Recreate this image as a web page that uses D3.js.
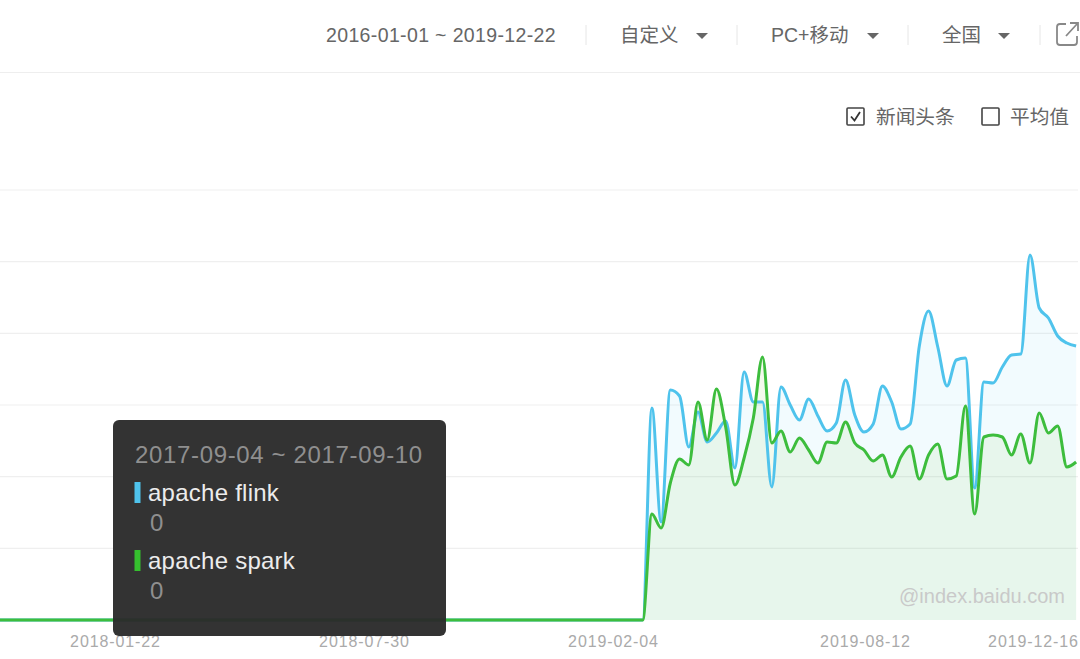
<!DOCTYPE html>
<html><head><meta charset="utf-8">
<script src="https://cdn.jsdelivr.net/npm/d3@7/dist/d3.min.js"></script>
<style>html,body{margin:0;padding:0;background:#fff;overflow:hidden}svg{display:block}text{font-family:"Liberation Sans","Noto Sans CJK SC",sans-serif}</style>
</head><body><svg id="c" width="1080" height="659"></svg>
<script>
const firstWeek = "2017-10-16";
const zeroRun = [0,0,0,0,0,0,0,0,0,0,0,0,0,0,0,0,0,0,0,0,0,0,0,0,0,0,0,0,0,0,0,0,0,0,0,0,0,0,0,0,0,0,0,0,0,0,0,0,0,0,0,0,0,0,0,0,0,0,0,0,0,0,0,0,0,0,0,0,0,0,0,0];
const flinkActive = [424,196,460,448,346,416,356,374,398,304,496,436,436,266,466,430,400,442,408,378,394,480,410,376,392,468,436,382,392,548,618,546,468,520,524,264,476,474,506,530,532,730,624,604,568,554,548];
const sparkActive = [212,184,274,322,310,436,360,462,386,270,324,404,526,354,378,336,364,340,314,356,354,396,354,340,318,330,286,326,348,282,330,352,282,288,428,212,366,370,366,330,372,314,414,374,388,306,316];
const gridValues = [143.3,286.7,430,573.3,716.7,860];
const tickLabels = ["2018-01-22","2018-07-30","2019-02-04","2019-08-12","2019-12-16"];
const seriesNames = ["apache flink","apache spark"];
const tooltipRange = "2017-09-04 ~ 2017-09-10";
const tooltipValues = ["0","0"];
const headerItems = ["自定义","PC+移动","全国"];
const dateRange = "2016-01-01 ~ 2019-12-22";
const toggles = ["新闻头条","平均值"];
const watermark = "@index.baidu.com";

const svg = d3.select("#c");
const parse = d3.utcParse("%Y-%m-%d");
const flink = zeroRun.concat(flinkActive), spark = zeroRun.concat(sparkActive);
const dates = flink.map((_, i) => d3.utcWeek.offset(parse(firstWeek), i));
const x = d3.scaleUtc().domain([parse("2018-01-22"), parse("2019-12-16")]).range([117, 1030]);
const y = d3.scaleLinear().domain([0, 860]).range([620, 190]);
svg.append("defs").append("clipPath").attr("id","pl").append("rect").attr("x",0).attr("y",0).attr("width",1078).attr("height",659);

// header
svg.append("line").attr("x1",0).attr("x2",1080).attr("y1",72.5).attr("y2",72.5).attr("stroke","#eee");
const hc = "#666";
svg.append("text").attr("x",326).attr("y",42).attr("font-size",19.5).attr("letter-spacing",0.36).attr("fill",hc).text(dateRange);
[[620,702],[771,873],[942,1004]].forEach((p,i)=>{
  svg.append("text").attr("x",p[0]).attr("y",42).attr("font-size",19.5).attr("fill",hc).text(headerItems[i]);
  svg.append("path").attr("d",d3.line()([[p[1]-6,33],[p[1]+6,33],[p[1],39]])+"Z").attr("fill","#666");
});
[586,737,908,1040].forEach(s=>svg.append("line").attr("x1",s).attr("x2",s).attr("y1",25).attr("y2",45).attr("stroke","#e6e6e6"));
svg.append("path").attr("d","M1066 24H1060a3 3 0 0 0-3 3V42a3 3 0 0 0 3 3H1074a3 3 0 0 0 3-3V36M1066 36L1077 24M1070 23H1078V31").attr("fill","none").attr("stroke","#888").attr("stroke-width",1.8);

// toggles
svg.append("rect").attr("x",847).attr("y",108).attr("width",17).attr("height",17).attr("fill","#fff").attr("stroke","#444").attr("stroke-width",1.6).attr("rx",1);
svg.append("path").attr("d","M851 116.5L854.5 120.5L860 112").attr("fill","none").attr("stroke","#333").attr("stroke-width",1.8);
svg.append("rect").attr("x",982).attr("y",108).attr("width",17).attr("height",17).attr("fill","#fff").attr("stroke","#444").attr("stroke-width",1.6).attr("rx",1);
svg.append("text").attr("x",876).attr("y",124).attr("font-size",19.7).attr("fill",hc).text(toggles[0]);
svg.append("text").attr("x",1010).attr("y",124).attr("font-size",19.7).attr("fill",hc).text(toggles[1]);

// grid
svg.append("g").selectAll("line").data(gridValues).join("line")
 .attr("x1",0).attr("x2",1078).attr("y1",d=>y(d)).attr("y2",d=>y(d)).attr("stroke","#efefef").attr("stroke-width",1.2);

// series
const area = d3.area().x((d,i)=>x(dates[i])).y0(y(0)).y1(d=>y(d)).curve(d3.curveMonotoneX);
const line = d3.line().x((d,i)=>x(dates[i])).y(d=>y(d)).curve(d3.curveMonotoneX);
const plot = svg.append("g").attr("clip-path","url(#pl)");
plot.append("path").datum(flink).attr("d",area).attr("fill","#4bc3ee").attr("fill-opacity",0.07);
plot.append("path").datum(spark).attr("d",area).attr("fill","#7cc83c").attr("fill-opacity",0.09);
plot.append("path").datum(flink).attr("d",line).attr("fill","none").attr("stroke","#4fc3ec").attr("stroke-width",3).attr("stroke-linejoin","round");
plot.append("path").datum(spark).attr("d",line).attr("fill","none").attr("stroke","#3dbd3d").attr("stroke-width",3).attr("stroke-linejoin","round");

// axis labels
const ax = d3.axisBottom(x).tickValues(tickLabels.map(parse)).tickFormat(d3.utcFormat("%Y-%m-%d")).tickSize(0).tickPadding(0);
const gAx = svg.append("g").attr("transform","translate(-2,636)").call(ax);
gAx.select(".domain").remove();
gAx.selectAll("text").attr("font-size",16).attr("letter-spacing",0.9).attr("fill","#aaa").attr("font-family",null);
gAx.selectAll("text").filter((d,i)=>i===3).attr("dx",3);
gAx.selectAll("text").filter((d,i)=>i===4).attr("dx",5);

// watermark
svg.append("text").attr("x",1065).attr("y",603).attr("text-anchor","end").attr("font-size",20).attr("fill","#c9c9c9").text(watermark);

// tooltip
const tt = svg.append("g");
tt.append("rect").attr("x",113).attr("y",420).attr("width",333).attr("height",216).attr("rx",6).attr("fill","#2b2b2b").attr("fill-opacity",0.96);
tt.append("text").attr("x",135).attr("y",463).attr("font-size",24).attr("letter-spacing",0.65).attr("fill","#8f8f8f").text(tooltipRange);
const colors = ["#4fc3ec","#35c02e"];
seriesNames.forEach((n,i)=>{
  const top = 482 + i*68;
  tt.append("rect").attr("x",134.5).attr("y",top).attr("width",6).attr("height",21).attr("fill",colors[i]);
  tt.append("text").attr("x",148).attr("y",top+19).attr("font-size",24).attr("letter-spacing",0.25).attr("fill","#ececec").text(n);
  tt.append("text").attr("x",150).attr("y",top+49).attr("font-size",24).attr("fill","#8f8f8f").text(tooltipValues[i]);
});
</script></body></html>
